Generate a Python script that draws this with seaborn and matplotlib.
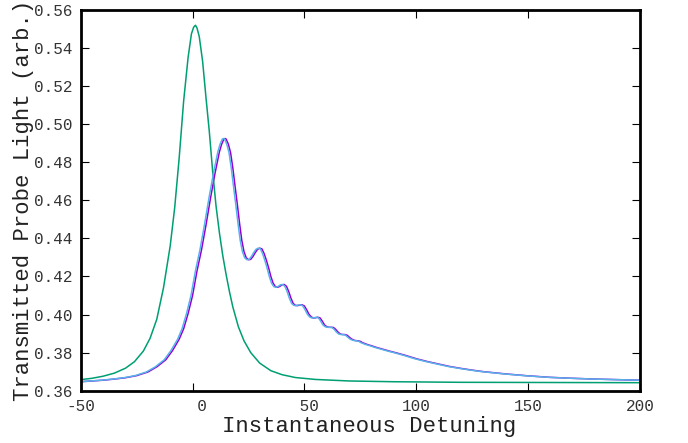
import matplotlib
matplotlib.use('Agg')
import matplotlib.pyplot as plt
import seaborn as sns
import pandas as pd

# three probe transmission traces
purple_x = [-50, -45, -40, -35, -30, -25, -20, -16, -12, -9, -6, -4, -2, 0, 2, 4, 6, 8, 10, 12,
            13, 14, 14.5, 15, 16, 17, 18, 19, 20, 21, 22, 23, 24, 25, 26, 27, 28, 29, 30, 31,
            32, 33, 34, 35, 36, 37, 38, 39, 40, 41, 42, 43, 44, 45, 46, 47, 48, 49, 50, 51,
            52, 53, 54, 55, 56, 57, 58, 59, 60, 61, 62, 63, 64, 65, 66, 67, 68, 69, 70, 71,
            72, 73, 74, 75, 76, 78, 80, 82, 85, 88, 91, 95, 100, 105, 110, 115, 120, 125, 130, 140,
            150, 160, 170, 180, 190, 200]
purple_y = [0.3647, 0.3651, 0.3655, 0.3661, 0.3668, 0.3679, 0.3698, 0.3725, 0.3762, 0.3810,
            0.3870, 0.3925, 0.4005, 0.4100, 0.4230, 0.4340, 0.4470, 0.4610, 0.4740, 0.4855,
            0.4895, 0.4922, 0.4925, 0.4922, 0.4895, 0.4850, 0.4770, 0.4674, 0.4580, 0.4480,
            0.4390, 0.4330, 0.4298, 0.4288, 0.4290, 0.4305, 0.4325, 0.4342, 0.4349, 0.4345,
            0.4320, 0.4285, 0.4245, 0.4200, 0.4165, 0.4147, 0.4143, 0.4148, 0.4156, 0.4158,
            0.4148, 0.4120, 0.4085, 0.4058, 0.4048, 0.4047, 0.4050, 0.4051, 0.4045, 0.4025,
            0.4002, 0.3988, 0.3982, 0.3983, 0.3986, 0.3982, 0.3965, 0.3945, 0.3936, 0.3933,
            0.3933, 0.3932, 0.3922, 0.3908, 0.3898, 0.3895, 0.3895, 0.3892, 0.3882, 0.3872,
            0.3866, 0.3863, 0.3862, 0.3859, 0.3852, 0.3843, 0.3836, 0.3828, 0.3818, 0.3808,
            0.3799, 0.3786, 0.3768, 0.3753, 0.3740, 0.3727, 0.3717, 0.3708, 0.3700, 0.3688,
            0.3678, 0.3670, 0.3665, 0.3661, 0.3658, 0.3655]

blue_x = [-50.7, -45.7, -40.7, -35.7, -30.7, -25.7, -20.7, -16.7, -12.7, -9.7, -6.7, -4.7, -2.7, -0.7,
          1.3, 3.3, 5.3, 7.3, 9.3, 11.3, 12.3, 13.3, 13.8, 14.3, 15.3, 16.3, 17.3, 18.3, 19.3, 20.3,
          21.3, 22.3, 23.3, 24.3, 25.3, 26.3, 27.3, 28.3, 29.3, 30.3, 31.3, 32.3, 33.3, 34.3, 35.3,
          36.3, 37.3, 38.3, 39.3, 40.3, 41.3, 42.3, 43.3, 44.3, 45.3, 46.3, 47.3, 48.3, 49.3, 50.3,
          51.3, 52.3, 53.3, 54.3, 55.3, 56.3, 57.3, 58.3, 59.3, 60.3, 61.3, 62.3, 63.3, 64.3, 65.3,
          66.3, 67.3, 68.3, 69.3, 70.3, 71.3, 72.3, 73.3, 74.3, 75.3, 77.3, 79.3, 81.3, 84.3, 87.3,
          90.3, 94.3, 99.3, 104.3, 109.3, 114.3, 119.3, 124.3, 129.3, 139.3, 149.3, 159.3, 169.3,
          179.3, 189.3, 200]
blue_y = [0.3647, 0.3651, 0.3655, 0.3661, 0.3668, 0.3679, 0.3698, 0.3725, 0.3762, 0.3810,
          0.3870, 0.3925, 0.4005, 0.4100, 0.4230, 0.4340, 0.4470, 0.4610, 0.4740, 0.4855,
          0.4895, 0.4922, 0.4925, 0.4922, 0.4895, 0.4850, 0.4770, 0.4674, 0.4580, 0.4480,
          0.4390, 0.4330, 0.4298, 0.4288, 0.4290, 0.4305, 0.4325, 0.4342, 0.4349, 0.4345,
          0.4320, 0.4285, 0.4245, 0.4200, 0.4165, 0.4147, 0.4143, 0.4148, 0.4156, 0.4158,
          0.4148, 0.4120, 0.4085, 0.4058, 0.4048, 0.4047, 0.4050, 0.4051, 0.4045, 0.4025,
          0.4002, 0.3988, 0.3982, 0.3983, 0.3986, 0.3982, 0.3965, 0.3945, 0.3936, 0.3933,
          0.3933, 0.3932, 0.3922, 0.3908, 0.3898, 0.3895, 0.3895, 0.3892, 0.3882, 0.3872,
          0.3866, 0.3863, 0.3862, 0.3859, 0.3852, 0.3843, 0.3836, 0.3828, 0.3818, 0.3808,
          0.3799, 0.3786, 0.3768, 0.3753, 0.3740, 0.3727, 0.3717, 0.3708, 0.3700, 0.3688,
          0.3678, 0.3670, 0.3665, 0.3661, 0.3658, 0.3655]

green_x = [-50, -45, -40, -35, -30, -26, -22, -19, -16, -13, -10, -8, -6, -4, -2, -0.5, 0.5, 1.3,
           2, 3, 4.5, 6, 7.5, 9, 10.5, 12, 13.5, 15, 16.5, 18, 20.5, 23, 26, 30, 35, 40, 46, 55,
           70, 90, 120, 160, 200]
green_y = [0.3658, 0.3665, 0.3676, 0.3692, 0.3718, 0.3752, 0.3808, 0.3875, 0.3975, 0.4140,
           0.4360, 0.4560, 0.4820, 0.5120, 0.5350, 0.5475, 0.5510, 0.5520, 0.5505, 0.5460,
           0.5330, 0.5140, 0.4960, 0.4750, 0.4570, 0.4430, 0.4310, 0.4210, 0.4120, 0.4040,
           0.3935, 0.3862, 0.3800, 0.3745, 0.3705, 0.3684, 0.3669, 0.3659, 0.3651, 0.3647,
           0.3644, 0.3643, 0.3642]

x_ticks = [-50, 0, 50, 100, 150, 200]
x_tick_labels = ['-50', '  0', ' 50', '100', '150', '200']
y_ticks = [0.36, 0.38, 0.40, 0.42, 0.44, 0.46, 0.48, 0.50, 0.52, 0.54, 0.56]
y_tick_labels = ['0.36', '0.38', '0.40', '0.42', '0.44', '0.46', '0.48', '0.50', '0.52', '0.54', '0.56']

sns.set_theme(style='ticks')
plt.rcParams['font.family'] = ['Liberation Mono', 'DejaVu Sans Mono']

fig = plt.figure(figsize=(6.88, 4.43), dpi=100)
ax = fig.add_axes([0.1173, 0.1181, 0.8129, 0.8593])

purple = pd.DataFrame({'x': purple_x, 'y': purple_y})
green = pd.DataFrame({'x': green_x, 'y': green_y})
blue = pd.DataFrame({'x': blue_x, 'y': blue_y})

sns.lineplot(data=purple, x='x', y='y', color='#9400d3', linewidth=1.1, ax=ax)
sns.lineplot(data=green, x='x', y='y', color='#009e73', linewidth=1.1, ax=ax)
sns.lineplot(data=blue, x='x', y='y', color='#56b4e9', linewidth=1.1, ax=ax)

ax.set_xlim(-50, 200)
ax.set_ylim(0.36, 0.56)
ax.set_xticks(x_ticks)
ax.set_xticklabels(x_tick_labels)
ax.set_yticks(y_ticks)
ax.set_yticklabels(y_tick_labels)
ax.tick_params(direction='in', top=True, right=True, length=5.5, width=0.8,
               color='black', labelcolor='#333333', labelsize=11.5, pad=6)

for side in ['top', 'bottom', 'left', 'right']:
    ax.spines[side].set_linewidth(2)
    ax.spines[side].set_color('black')

ax.set_xlabel('Instantaneous Detuning', fontsize=16, color='#222222')
ax.set_ylabel('Transmitted Probe Light (arb.)', fontsize=16, color='#222222')
ax.xaxis.label.set_va('center')
ax.yaxis.label.set_va('center')
ax.xaxis.set_label_coords(0.516, -0.095)
ax.yaxis.set_label_coords(-0.103, 0.5)

fig.savefig('out.png', dpi=100)
